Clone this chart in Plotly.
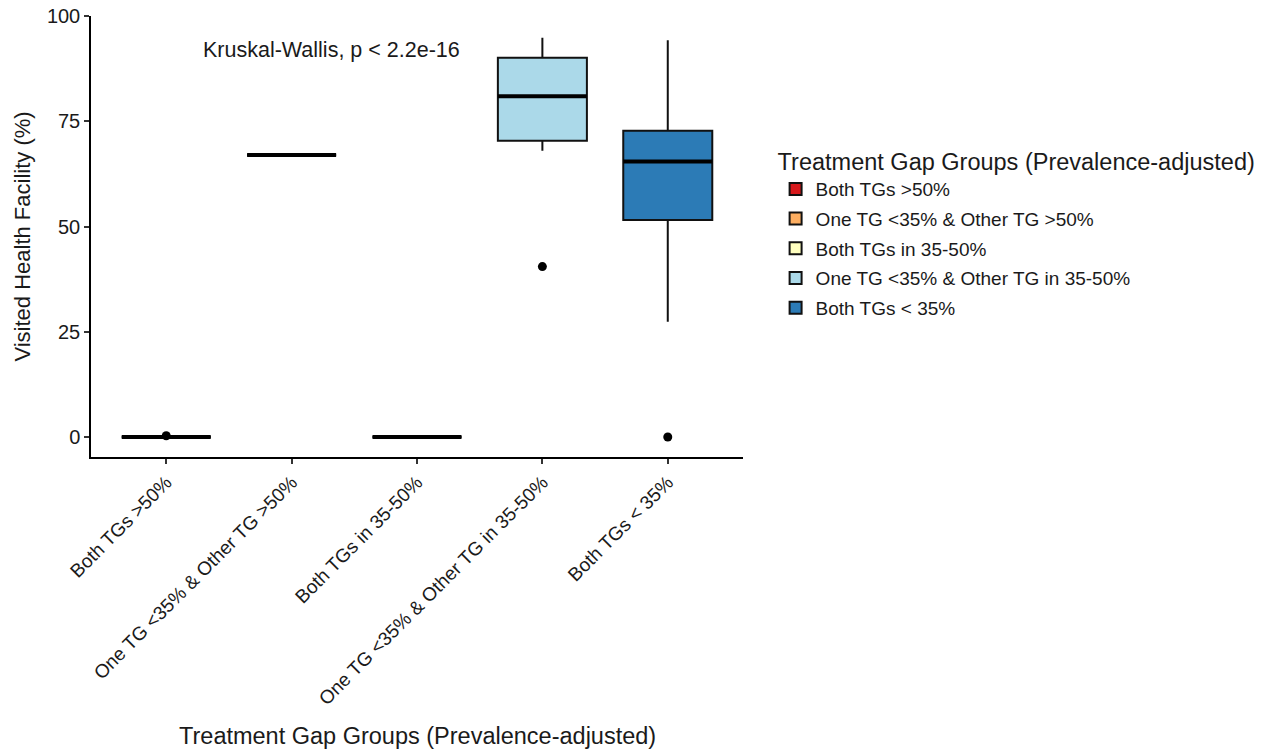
import plotly.graph_objects as go

# Treatment gap groups and their box statistics (Visited Health Facility, %)
groups = [
    "Both TGs >50%",
    "One TG <35% & Other TG >50%",
    "Both TGs in 35-50%",
    "One TG <35% & Other TG in 35-50%",
    "Both TGs < 35%",
]
colors = ["#D7191C", "#FDAE61", "#FFFFBF", "#ABD9E9", "#2C7BB6"]

lower_whisker = [0.0, 67.0, 0.0, 68.0, 27.4]
q1 = [0.0, 67.0, 0.0, 70.4, 51.6]
median = [0.0, 67.0, 0.0, 81.0, 65.5]
q3 = [0.0, 67.0, 0.0, 90.1, 72.8]
upper_whisker = [0.0, 67.0, 0.0, 94.9, 94.3]

# Outlying observations per group (group index, value)
outlier_group = [1, 4, 5]
outlier_value = [0.3, 40.5, 0.0]

positions = [1, 2, 3, 4, 5]
BOX_W = 0.71
font = "Liberation Sans, Arial, sans-serif"

fig = go.Figure()

for i, g in enumerate(groups):
    fig.add_trace(go.Box(
        x=[positions[i]],
        q1=[q1[i]], median=[median[i]], q3=[q3[i]],
        lowerfence=[lower_whisker[i]], upperfence=[upper_whisker[i]],
        name=g, legendgroup=g,
        fillcolor=colors[i],
        line=dict(color="#111111", width=2),
        width=BOX_W,
        whiskerwidth=0,
        boxpoints=False,
        hoverinfo="skip",
    ))
    # thicker median bar, as drawn by ggplot
    fig.add_trace(go.Scatter(
        x=[positions[i] - BOX_W / 2, positions[i] + BOX_W / 2],
        y=[median[i], median[i]],
        mode="lines",
        line=dict(color="#000000", width=4),
        showlegend=False, legendgroup=g, hoverinfo="skip",
    ))

fig.add_trace(go.Scatter(
    x=outlier_group, y=outlier_value,
    mode="markers",
    marker=dict(color="#000000", size=9),
    showlegend=False, hoverinfo="skip",
))

fig.add_annotation(
    x=1.28, y=92, xref="x", yref="y",
    text="Kruskal-Wallis, p < 2.2e-16",
    showarrow=False, xanchor="left", yanchor="middle",
    font=dict(size=21.5, color="#1a1a1a", family=font),
)

fig.add_annotation(
    x=0.5, y=-0.632, xref="paper", yref="paper",
    text="Treatment Gap Groups (Prevalence-adjusted)",
    showarrow=False, xanchor="center", yanchor="middle",
    font=dict(size=23.5, color="#1a1a1a", family=font),
)

fig.update_layout(
    width=1271, height=751,
    margin=dict(l=91, r=528, t=16, b=294),
    plot_bgcolor="white", paper_bgcolor="white",
    showlegend=True,
    boxmode="overlay",
    font=dict(family=font, color="#1a1a1a"),
    legend=dict(
        title=dict(text="Treatment Gap Groups (Prevalence-adjusted)",
                   font=dict(size=23.5, color="#1a1a1a"), side="top"),
        font=dict(size=19, color="#1a1a1a"),
        x=1.05, y=0.72, xanchor="left", yanchor="top",
        tracegroupgap=2,
        bgcolor="rgba(0,0,0,0)",
    ),
    xaxis=dict(
        range=[0.4, 5.6],
        tickmode="array", tickvals=positions, ticktext=groups,
        tickangle=-45,
        tickfont=dict(size=19, color="#1a1a1a"),
        showline=True, linecolor="#000000", linewidth=1.5,
        ticks="outside", ticklen=5, tickcolor="#333333", tickwidth=1.5,
        showgrid=False, zeroline=False, automargin=False,
    ),
    yaxis=dict(
        range=[-4.75, 100.05],
        tickmode="array", tickvals=[0, 25, 50, 75, 100],
        tickfont=dict(size=20, color="#1a1a1a"),
        showline=True, linecolor="#000000", linewidth=1.5,
        ticks="outside", ticklen=5, tickcolor="#333333", tickwidth=1.5,
        showgrid=False, zeroline=False, automargin=False,
        title=dict(text="Visited Health Facility (%)",
                   font=dict(size=22, color="#1a1a1a"), standoff=10),
    ),
)

fig.write_html("out.html")
